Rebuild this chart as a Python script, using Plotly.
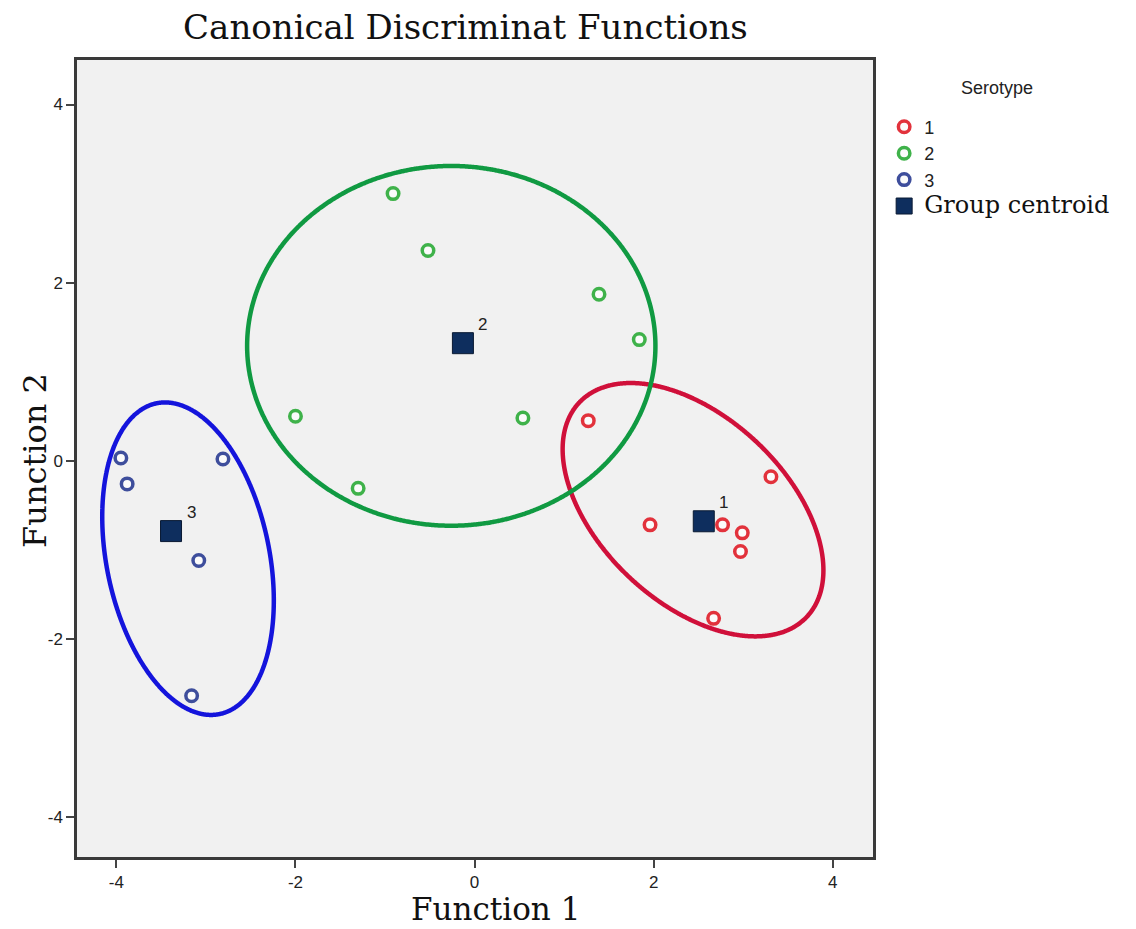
import numpy as np
import plotly.graph_objects as go

# Discriminant scores per serotype (Function 1, Function 2)
sero1_f1 = [1.27, 3.31, 1.96, 2.77, 2.99, 2.97, 2.67]
sero1_f2 = [0.45, -0.18, -0.72, -0.72, -0.81, -1.02, -1.77]
sero2_f1 = [-0.91, -0.52, 1.39, 1.84, -2.00, 0.54, -1.30]
sero2_f2 = [3.00, 2.36, 1.87, 1.36, 0.50, 0.48, -0.31]
sero3_f1 = [-3.95, -2.81, -3.88, -3.08, -3.16]
sero3_f2 = [0.03, 0.02, -0.26, -1.12, -2.64]

# Group centroids
centroid_labels = ["1", "2", "3"]
centroid_f1 = [2.56, -0.13, -3.39]
centroid_f2 = [-0.68, 1.32, -0.79]

# Group ellipses: centre, semi-axes and rotation (degrees)
ellipse_cx = [2.44, -0.26, -3.20]
ellipse_cy = [-0.55, 1.29, -1.10]
ellipse_a = [1.75, 2.28, 1.78]
ellipse_b = [1.04, 2.02, 0.91]
ellipse_angle = [-43.6, 0.0, -78.7]

ticks = [-4, -2, 0, 2, 4]

point_colors = ["#E2323C", "#3FB24A", "#3E4E9C"]
ring_colors = ["#D0103A", "#109A42", "#1414DC"]
centroid_color = "#0E2E5E"

SERIF = "DejaVu Serif"
SANS = "Liberation Sans, Arial, sans-serif"

fig = go.Figure()

# ellipses first so the points sit on top
t = np.linspace(0, 2 * np.pi, 721)
for cx, cy, a, b, ang, col in zip(ellipse_cx, ellipse_cy, ellipse_a, ellipse_b,
                                   ellipse_angle, ring_colors):
    th = np.deg2rad(ang)
    ex = cx + a * np.cos(t) * np.cos(th) - b * np.sin(t) * np.sin(th)
    ey = cy + a * np.cos(t) * np.sin(th) + b * np.sin(t) * np.cos(th)
    fig.add_trace(go.Scatter(x=ex, y=ey, mode="lines", showlegend=False,
                             hoverinfo="skip",
                             line=dict(color=col, width=4.5, shape="spline")))

groups = [("1", sero1_f1, sero1_f2), ("2", sero2_f1, sero2_f2),
          ("3", sero3_f1, sero3_f2)]
for (name, gx, gy), col in zip(groups, point_colors):
    fig.add_trace(go.Scatter(
        x=gx, y=gy, mode="markers", name=name,
        marker=dict(symbol="circle", size=11.5, color="#FBFBFB",
                    line=dict(color=col, width=3.5)),
    ))

fig.add_trace(go.Scatter(
    x=centroid_f1, y=centroid_f2, mode="markers",
    name="<span style='font-family:DejaVu Serif;font-size:24px;color:#111'>Group centroid</span>",
    marker=dict(symbol="square", size=21, color=centroid_color,
                line=dict(color="#0A1A33", width=1)),
))

annotations = []
for lab, cx, cy in zip(centroid_labels, centroid_f1, centroid_f2):
    annotations.append(dict(x=cx, y=cy, text=lab, showarrow=False,
                            xshift=20, yshift=19,
                            font=dict(family=SANS, size=17, color="#222")))

annotations.append(dict(text="Function 1", xref="paper", yref="paper",
                        x=0.526, y=-0.0891, showarrow=False, borderpad=0,
                        xanchor="center", yanchor="bottom",
                        font=dict(family=SERIF, size=31, color="#111")))
annotations.append(dict(text="Function 2", xref="paper", yref="paper",
                        x=-0.053, y=0.498, showarrow=False, textangle=-90,
                        xanchor="center", yanchor="middle",
                        font=dict(family=SERIF, size=32, color="#111")))
# legend heading
annotations.append(dict(text="Serotype", xref="paper", yref="paper",
                        x=1.156, y=0.965, showarrow=False,
                        xanchor="center", yanchor="middle",
                        font=dict(family=SANS, size=18, color="#222")))

axis_common = dict(
    tickvals=ticks, ticktext=[str(v) for v in ticks],
    ticks="outside", ticklen=8, tickwidth=2, tickcolor="#444",
    showline=True, linecolor="#3a3a3a", linewidth=2.5, mirror=True,
    showgrid=False, zeroline=False,
    tickfont=dict(family=SANS, size=17, color="#222"),
)

fig.update_layout(
    width=1136, height=929,
    margin=dict(l=77, r=263, t=60, b=72),
    paper_bgcolor="white", plot_bgcolor="#F1F1F1",
    title=dict(text="Canonical Discriminat Functions",
               x=0.488, xref="paper", xanchor="center",
               y=1 - 27 / 929, yref="container", yanchor="middle",
               font=dict(family=SERIF, size=34, color="#111")),
    xaxis=dict(range=[-4.44, 4.45], ticklabelstandoff=0, **axis_common),
    yaxis=dict(range=[-4.45, 4.5], **axis_common),
    legend=dict(x=1.014, y=0.939, xanchor="left", yanchor="top",
                font=dict(family=SANS, size=18, color="#222"),
                bgcolor="rgba(0,0,0,0)", tracegroupgap=0, itemwidth=30),
    annotations=annotations,
)

fig.write_html("out.html")
